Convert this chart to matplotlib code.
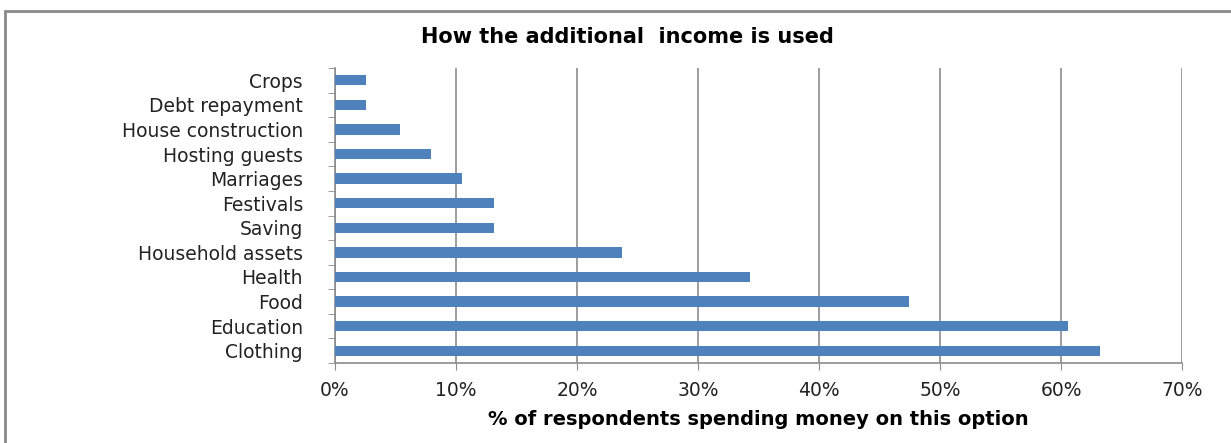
import matplotlib
matplotlib.use("Agg")
import matplotlib.pyplot as plt
from matplotlib.patches import Rectangle
from matplotlib.ticker import FuncFormatter, FixedLocator

# Uses of the additional income, top to bottom as shown
categories = ["Crops", "Debt repayment", "House construction", "Hosting guests",
              "Marriages", "Festivals", "Saving", "Household assets",
              "Health", "Food", "Education", "Clothing"]
# % of respondents
values = [2.6, 2.6, 5.4, 7.9, 10.5, 13.1, 13.1, 23.7, 34.3, 47.4, 60.6, 63.2]
xticks = [0, 10, 20, 30, 40, 50, 60, 70]

BAR_COLOR = "#4F81BD"
GRID_COLOR = "#8C8C8C"

fig = plt.figure(figsize=(12.31, 4.43), dpi=100)
ax = fig.add_axes([335 / 1231, 80 / 443, 847 / 1231, 295 / 443])

# outer chart frame (runs off the right and bottom edge)
frame = Rectangle((5 / 1231, -0.2), 1.2, 0.2 + (443 - 11) / 443, transform=fig.transFigure,
                  fill=False, edgecolor="#8A8A8A", linewidth=2, clip_on=False)
fig.patches.append(frame)

n = len(categories)
ypos = [n - 1 - i for i in range(n)]
ax.barh(ypos, values, height=0.42, color=BAR_COLOR, zorder=3)

ax.set_xlim(0, 70)
ax.set_ylim(-0.5, n - 0.5)
ax.set_xticks(xticks)
ax.xaxis.set_major_formatter(FuncFormatter(lambda v, p: "%d%%" % v))
ax.grid(axis="x", color=GRID_COLOR, linewidth=1.2, zorder=0)

# category labels centered on bars, tick marks at boundaries
ax.set_yticks(ypos)
ax.set_yticklabels(categories)
ax.yaxis.set_minor_locator(FixedLocator([i - 0.5 for i in range(n + 1)]))
ax.tick_params(axis="y", which="major", length=0, pad=23, labelsize=13.5, labelcolor="#222222")
ax.tick_params(axis="y", which="minor", length=5, color=GRID_COLOR, direction="out")
ax.tick_params(axis="x", length=5, color=GRID_COLOR, pad=8, labelsize=13.5, labelcolor="#222222")

for side in ["top", "right"]:
  ax.spines[side].set_visible(False)
for side in ["left", "bottom"]:
  ax.spines[side].set_color(GRID_COLOR)
  ax.spines[side].set_linewidth(1.2)

fig.text(0.51, 0.916, "How the additional  income is used", ha="center", va="center",
         fontsize=15, fontweight="bold")
fig.text(758 / 1231, 0.052, "% of respondents spending money on this option", ha="center",
         va="center", fontsize=14, fontweight="bold")

fig.savefig("out.png", dpi=100)
